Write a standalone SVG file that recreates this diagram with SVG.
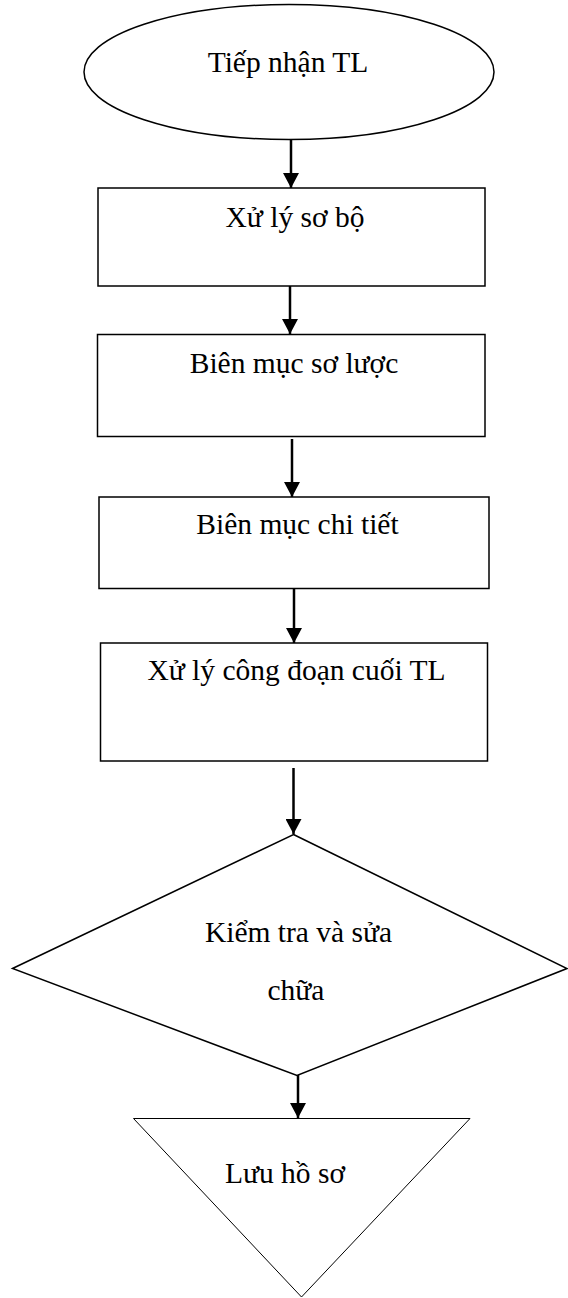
<svg xmlns="http://www.w3.org/2000/svg" width="568" height="1298" viewBox="0 0 568 1298">
<style>
.shape{fill:#fff;stroke:#000;stroke-width:1.5}
.thin{fill:#fff;stroke:#000;stroke-width:1}
.lbl{font-family:"Liberation Serif","Times New Roman",serif;font-size:29.5px;fill:#000;text-anchor:middle}
.conn{stroke:#000;stroke-width:2.5;fill:none;marker-end:url(#ah)}
</style>
<defs>
<marker id="ah" markerUnits="userSpaceOnUse" markerWidth="16" markerHeight="16" viewBox="0 0 16 16" refX="15" refY="8" orient="auto">
<path d="M0,0 L15,8 L0,16 Z" fill="#000"/>
</marker>
</defs>
<g id="connectors">
<line class="conn" x1="291" y1="140" x2="291" y2="188"/>
<line class="conn" x1="290" y1="286" x2="290" y2="334"/>
<line class="conn" x1="292" y1="439" x2="292" y2="497"/>
<line class="conn" x1="294" y1="588" x2="294" y2="643"/>
<line class="conn" x1="293.5" y1="768" x2="293.5" y2="834"/>
<line class="conn" x1="298" y1="1075" x2="298" y2="1118"/>
</g>
<g id="n1">
<ellipse class="shape" cx="289" cy="72" rx="205" ry="67.5"/>
<text class="lbl" x="288" y="72">Tiếp nhận TL</text>
</g>
<g id="n2">
<rect class="shape" x="98" y="188" width="387" height="98"/>
<text class="lbl" x="295" y="227">Xử lý sơ bộ</text>
</g>
<g id="n3">
<rect class="shape" x="97.5" y="334.5" width="387.5" height="102"/>
<text class="lbl" x="294" y="373">Biên mục sơ lược</text>
</g>
<g id="n4">
<rect class="shape" x="99" y="497" width="390" height="91.5"/>
<text class="lbl" x="297.5" y="534">Biên mục chi tiết</text>
</g>
<g id="n5">
<rect class="shape" x="100.5" y="643" width="387" height="118"/>
<text class="lbl" x="296.5" y="680">Xử lý công đoạn cuối TL</text>
</g>
<g id="n6">
<polygon class="shape" points="293.5,834.5 567,968.5 297,1075.5 12.5,968.5"/>
<text class="lbl" x="298.5" y="942">Kiểm tra và sửa</text>
<text class="lbl" x="296" y="1000">chữa</text>
</g>
<g id="n7">
<polygon class="thin" points="133.5,1118.5 470,1118.5 301.5,1297"/>
<text class="lbl" x="285" y="1183">Lưu hồ sơ</text>
</g>
</svg>
